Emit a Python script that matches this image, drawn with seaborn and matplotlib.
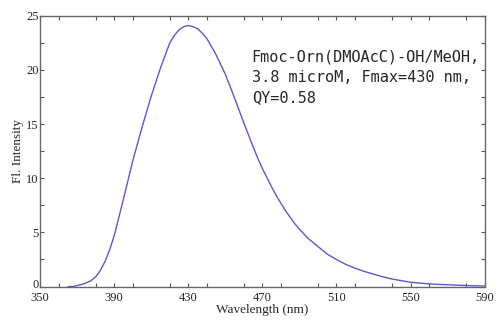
import numpy as np
import pandas as pd
import matplotlib.pyplot as plt
import matplotlib.transforms as mtransforms
import seaborn as sns
from matplotlib.ticker import MultipleLocator

# Emission spectrum (wavelength in nm, intensity)
wavelength = [365, 368, 370, 372.5, 375, 377.5, 380, 382.5, 385, 387.5, 390, 395,
              400, 405, 410, 415, 420, 422.5, 425, 427.5, 430, 432.5, 435, 437.5,
              440, 445, 450, 455, 460, 465, 467.5, 470, 472.5, 475, 477.5, 480,
              482.5, 485, 487.5, 490, 495, 500, 505, 510, 515, 520, 525, 530, 535,
              540, 545, 550, 555, 560, 565, 570, 575, 580, 585, 590]
intensity = [0.0, 0.0, 0.1, 0.2, 0.35, 0.55, 0.9, 1.5, 2.3, 3.4, 4.7, 8.1,
             11.6, 14.7, 17.6, 20.2, 22.5, 23.2, 23.7, 24.0, 24.1, 24.0, 23.8, 23.4,
             22.9, 21.4, 19.6, 17.4, 15.1, 12.9, 11.85, 10.9, 10.05, 9.2, 8.4, 7.7,
             7.0, 6.4, 5.8, 5.3, 4.4, 3.7, 3.0, 2.5, 2.05, 1.7, 1.4, 1.15, 0.9,
             0.7, 0.55, 0.4, 0.32, 0.25, 0.2, 0.17, 0.13, 0.1, 0.07, 0.05]

x_ticks = [350, 390, 430, 470, 510, 550, 590]
y_ticks = [0, 5, 10, 15, 20, 25]
note = "Fmoc-Orn(DMOAcC)-OH/MeOH,\n3.8 microM, Fmax=430 nm,\nQY=0.58"

df = pd.DataFrame({"Wavelength": wavelength, "Intensity": intensity})

sns.set_style("ticks")
plt.rcParams["font.family"] = ["Liberation Serif", "DejaVu Serif"]

fig = plt.figure(figsize=(4.96, 3.22), dpi=100)
ax = fig.add_axes([0.081, 0.11, 0.896, 0.841])

sns.lineplot(data=df, x="Wavelength", y="Intensity", ax=ax,
             color="#5a5ac8", linewidth=1.0)

ax.set_xlim(350, 590)
ax.set_ylim(0, 25)
ax.set_xticks(x_ticks)
ax.set_yticks(y_ticks)
ax.xaxis.set_minor_locator(MultipleLocator(20))
ax.yaxis.set_minor_locator(MultipleLocator(2.5))
ax.tick_params(which="both", direction="in", top=True, right=True,
               length=3, width=0.8, color="#555555", labelsize=9)
ax.tick_params(axis="y", pad=1)
ax.tick_params(axis="x", pad=4)
for s in ax.spines.values():
    s.set_color("#666666")
    s.set_linewidth(1.0)

# nudge the "0" label up a little so it clears "350"
lbl0 = ax.get_yticklabels()[0]
lbl0.set_transform(lbl0.get_transform() +
                   mtransforms.ScaledTranslation(0, 3 / 100, fig.dpi_scale_trans))

ax.set_xlabel("Wavelength (nm)", fontsize=9.5, labelpad=0)
ax.set_ylabel("Fl. Intensity", fontsize=9.5, labelpad=2)

ax.text(0.476, 0.875, note, transform=ax.transAxes, ha="left", va="top",
        fontsize=11, family="DejaVu Sans Mono", linespacing=1.45)

fig.savefig("out.png", dpi=100)
